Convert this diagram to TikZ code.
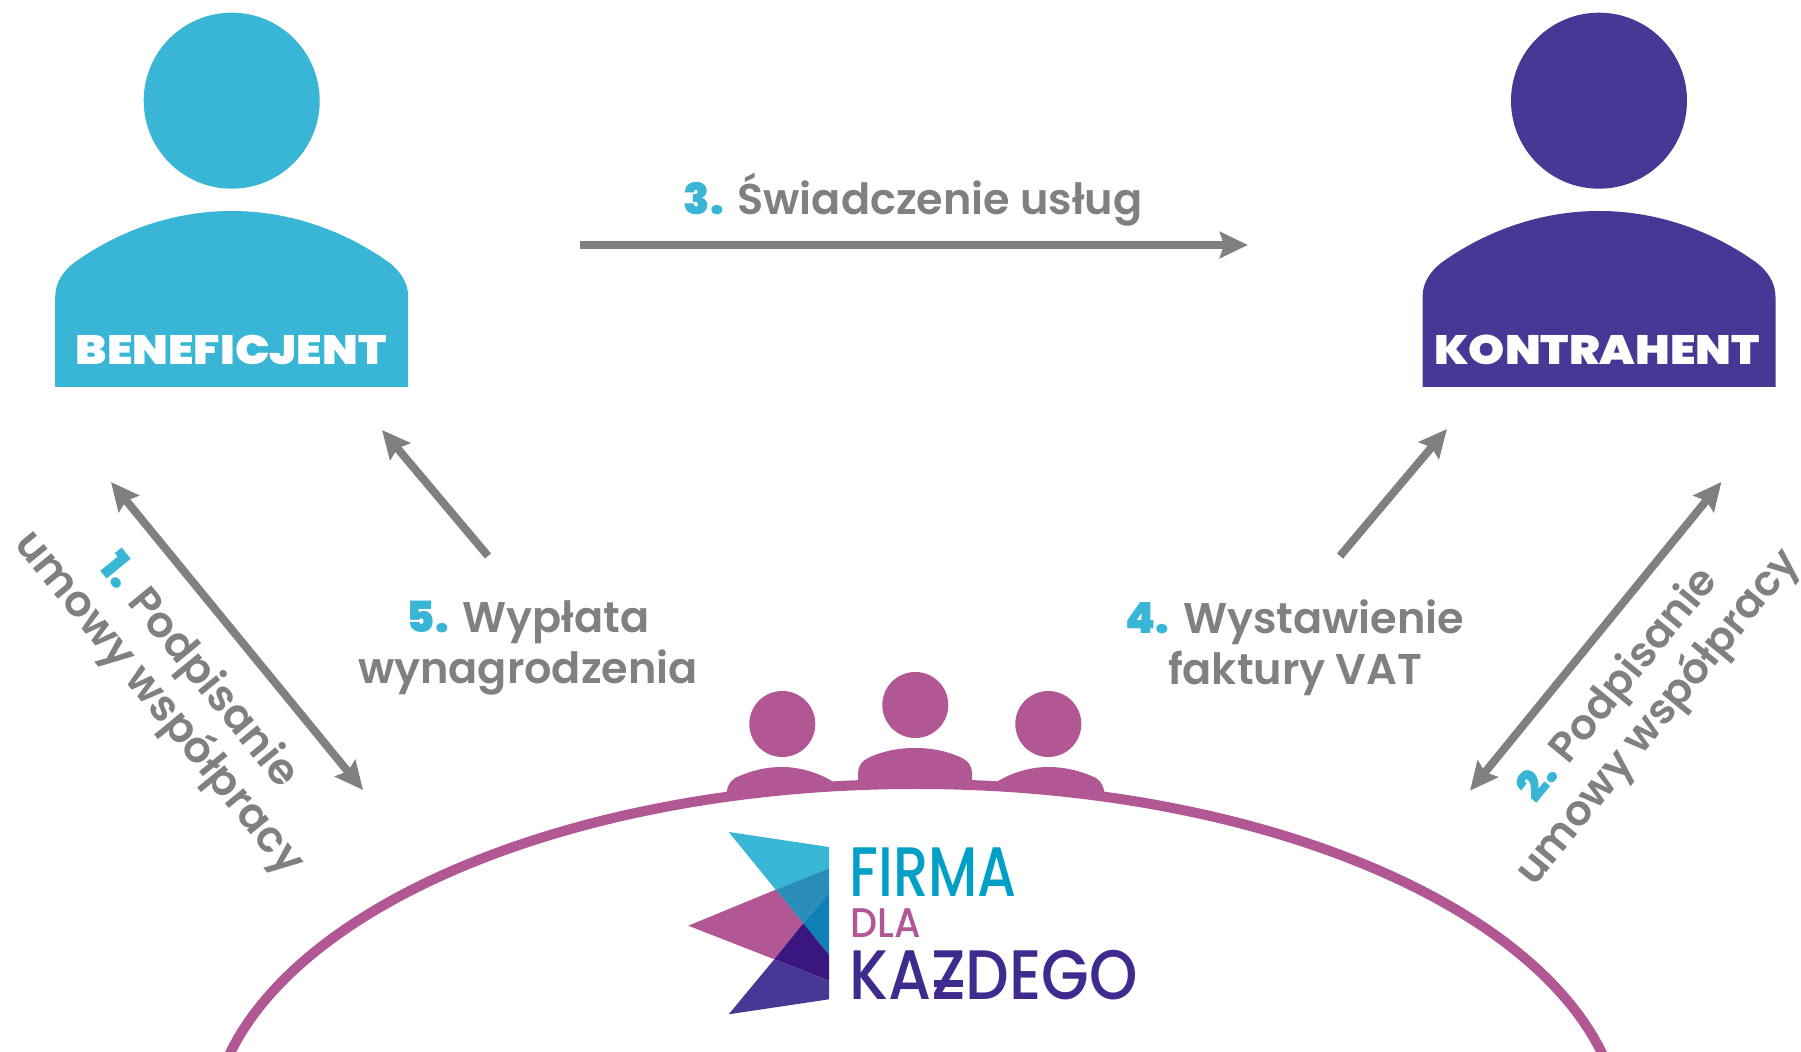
\documentclass[tikz,border=0pt]{standalone}
\usepackage{fontspec}
\usepackage{tikz}
\usetikzlibrary{arrows.meta,positioning}
\newfontfamily\labelfont{Poppins SemiBold}
\newfontfamily\heavyfont{Poppins Black}
\newfontfamily\namefont[FakeStretch=1.12]{Poppins Black}
\newfontfamily\logofont{Poppins Medium}
\definecolor{benecolor}{HTML}{39B5D5}
\definecolor{kontrcolor}{HTML}{483896}
\definecolor{tablecolor}{HTML}{B15793}
\definecolor{flowcolor}{HTML}{808080}
\newcommand{\stepno}[1]{{\heavyfont\color{benecolor}#1}}
\newcommand{\barz}{\rlap{\kern0.05em\rule[0.18em]{0.46em}{0.09em}}Z}
\tikzset{
  head/.style={circle,inner sep=0pt,minimum size=88pt},
  smallhead/.style={circle,inner sep=0pt,minimum size=33pt,fill=tablecolor},
  flow/.style={draw=flowcolor,line width=4pt,-{Stealth[length=14pt,width=13pt,inset=2pt]}},
  twoflow/.style={flow,{Stealth[length=14pt,width=13pt,inset=2pt]}-{Stealth[length=14pt,width=13pt,inset=2pt]}},
  flowlabel/.style={font=\labelfont\fontsize{21.5}{25.5}\selectfont,text=flowcolor,align=center,inner sep=0pt},
  namelabel/.style={font=\namefont\fontsize{20.5}{24}\selectfont,text=white,anchor=base,inner sep=0pt},
  torso/.pic={
    \fill[pic actions] (-176.5,0) -- (-176.5,-90) .. controls (-176.5,-105) and (-168,-116) .. (-158,-124)
      .. controls (-115,-155) and (-60,-176) .. (0,-176)
      .. controls (60,-176) and (115,-155) .. (158,-124)
      .. controls (168,-116) and (176.5,-105) .. (176.5,-90) -- (176.5,0) -- cycle;
  }
}
\begin{document}
\begin{tikzpicture}[x=0.5pt,y=-0.5pt]
  \path[use as bounding box,clip] (0,0) rectangle (1801,1052);
  % people on top
  \node[head,fill=benecolor] (benehead) at (231.7,100.7) {};
  \node[head,fill=kontrcolor] (kontrhead) at (1599,100.7) {};
  \pic[fill=benecolor] at (231.7,387) {torso};
  \pic[fill=kontrcolor] at (1599,387) {torso};
  \node[namelabel] (bene) at (231,365) {BENEFICJENT};
  \node[namelabel] (kontr) at (1597,365) {KONTRAHENT};
  % table with the team
  \draw[tablecolor,line width=5pt] (916,1137) ellipse [x radius=706,y radius=353];
  \foreach \name/\x/\y in {lefthead/782.3/724,midhead/915.3/705,righthead/1048.3/724}
    \node[smallhead] (\name) at (\x,\y) {};
  \fill[tablecolor] (726,797) .. controls (727,787) and (729,782) .. (735,778)
    .. controls (750,771) and (765,767) .. (782,767) .. controls (800,767) and (820,773) .. (835,783) -- (835,786) -- cycle;
  \fill[tablecolor] (858,785) -- (858,773) .. controls (858,766) and (862,761) .. (868,758)
    .. controls (883,751) and (898,748) .. (915,748) .. controls (932,748) and (947,751) .. (962,758)
    .. controls (968,761) and (972,766) .. (972,773) -- (972,785) -- cycle;
  \fill[tablecolor] (1105,797) .. controls (1104,787) and (1102,782) .. (1096,778)
    .. controls (1081,771) and (1065,767) .. (1048,767) .. controls (1030,767) and (1010,773) .. (995,783) -- (995,786) -- cycle;
  % logo
  \fill[benecolor] (728.7,832) -- (829,847) -- (829,868.3) -- (775.7,889.7) -- cycle;
  \fill[color={rgb,255:red,42;green,141;blue,185}] (775.7,889.7) -- (829,868.3) -- (829,893.3) -- (803.3,923.3) -- cycle;
  \fill[color={rgb,255:red,15;green,127;blue,184}] (829,893.3) -- (829,955) -- (803.3,923.3) -- cycle;
  \fill[tablecolor] (688.3,925.7) -- (775.7,889.7) -- (803.3,923.3) -- (774.3,959.3) -- cycle;
  \fill[color={rgb,255:red,58;green,22;blue,128}] (803.3,923.3) -- (829,955) -- (829,980.7) -- (774.3,959.3) -- cycle;
  \fill[kontrcolor] (774.3,959.3) -- (829,980.7) -- (829,999.3) -- (728.7,1014.3) -- cycle;
  \node[font=\logofont\fontsize{35}{35}\selectfont,text={rgb,255:red,0;green,160;blue,198},anchor=base west,inner sep=0pt] (firma) at (849,897) {\scalebox{0.8}[1]{FIRMA}};
  \node[font=\logofont\fontsize{20.7}{21}\selectfont,text=tablecolor,anchor=base west,inner sep=0pt] (dla) at (850,938) {\scalebox{0.92}[1]{DLA}};
  \node[font=\logofont\fontsize{35}{35}\selectfont,text={rgb,255:red,63;green,42;blue,142},anchor=base west,inner sep=0pt] (kazdego) at (849,999.3) {\scalebox{0.88}[1]{KA\barz DEGO}};
  % ends of the arrows
  \coordinate (uslugifrom) at (580,245);
  \coordinate (uslugito) at (1248,245);
  \coordinate (umowa1a) at (111,482);
  \coordinate (umowa1b) at (363,790);
  \coordinate (umowa2a) at (1721.4,482);
  \coordinate (umowa2b) at (1470,790.7);
  \coordinate (wyplatafrom) at (488,556);
  \coordinate (wyplatato) at (382,430);
  \coordinate (fakturafrom) at (1340,556);
  \coordinate (fakturato) at (1447,429);
  \draw[flow] (uslugifrom)--(uslugito);
  \draw[flow] (wyplatafrom)--(wyplatato);
  \draw[flow] (fakturafrom)--(fakturato);
  \draw[twoflow] (umowa1a)--(umowa1b);
  \draw[twoflow] (umowa2a)--(umowa2b);
  % labels
  \node[flowlabel,anchor=base] (uslugi) at (913,215) {\stepno{3.} Świadczenie usług};
  \node[flowlabel] (wyplata) at (528,648) {\stepno{5.} Wypłata\\wynagrodzenia};
  \node[flowlabel] (faktura) at (1295,648) {\stepno{4.} Wystawienie\\faktury VAT};
  \node[flowlabel,rotate=-50.7] (umowa1) at (178,688) {\stepno{1.} Podpisanie\\umowy współpracy};
  \node[flowlabel,font=\labelfont\fontsize{21}{25.5}\selectfont,rotate=50.7] (umowa2) at (1639,702) {\stepno{2.} Podpisanie\\umowy współpracy};
\end{tikzpicture}
\end{document}
